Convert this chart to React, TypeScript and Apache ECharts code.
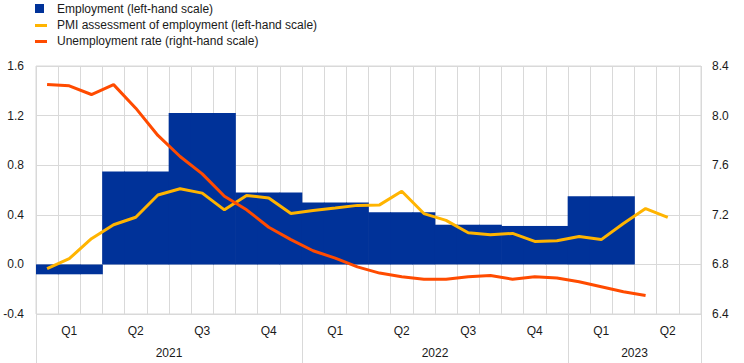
import React, { useEffect, useRef } from "react";
import * as echarts from "echarts";

// Monthly categories (Jan 2021 - Jun 2023)
const months = [
  "2021-01", "2021-02", "2021-03", "2021-04", "2021-05", "2021-06",
  "2021-07", "2021-08", "2021-09", "2021-10", "2021-11", "2021-12",
  "2022-01", "2022-02", "2022-03", "2022-04", "2022-05", "2022-06",
  "2022-07", "2022-08", "2022-09", "2022-10", "2022-11", "2022-12",
  "2023-01", "2023-02", "2023-03", "2023-04", "2023-05", "2023-06",
];

// Employment, quarterly (left-hand scale)
const employmentQuarters = ["2021Q1", "2021Q2", "2021Q3", "2021Q4", "2022Q1", "2022Q2", "2022Q3", "2022Q4", "2023Q1"];
const employment = [-0.08, 0.75, 1.22, 0.58, 0.5, 0.42, 0.32, 0.31, 0.55];

// PMI assessment of employment, monthly (left-hand scale)
const pmi = [
  -0.035, 0.046, 0.207, 0.32, 0.38, 0.56, 0.61, 0.575, 0.44, 0.556, 0.535, 0.41,
  0.435, 0.454, 0.476, 0.48, 0.59, 0.41, 0.355, 0.255, 0.24, 0.25, 0.185, 0.19,
  0.225, 0.2, 0.33, 0.45, 0.38,
];

// Unemployment rate, monthly (right-hand scale)
const unemployment = [
  8.25, 8.24, 8.17, 8.25, 8.06, 7.84, 7.67, 7.53, 7.35, 7.24, 7.1, 7.0,
  6.91, 6.85, 6.78, 6.73, 6.7, 6.68, 6.68, 6.7, 6.71, 6.68, 6.7, 6.69,
  6.66, 6.62, 6.58, 6.55,
];

const leftTicks = { min: -0.4, max: 1.6, interval: 0.4 };
const rightTicks = { min: 6.4, max: 8.4, interval: 0.4 };

const legendNames = [
  "Employment (left-hand scale)",
  "PMI assessment of employment (left-hand scale)",
  "Unemployment rate (right-hand scale)",
];

const BLUE = "#003299";
const YELLOW = "#FFB400";
const RED = "#FF4B00";
const GRID = "#d9d9d9";
const FONT = "Liberation Sans, Arial, sans-serif";
const TEXT = "#1a1a1a";

export default function App() {
  const ref = useRef<HTMLDivElement>(null);

  useEffect(() => {
    document.body.style.margin = "0";
    if (!ref.current) return;
    const chart = echarts.init(ref.current, undefined, { renderer: "svg" });

    // monthly bar data from quarterly values
    const barData = months.map((m) => {
      const y = m.slice(0, 4);
      const q = Math.floor((parseInt(m.slice(5, 7), 10) - 1) / 3) + 1;
      const idx = employmentQuarters.indexOf(`${y}Q${q}`);
      return idx >= 0 ? employment[idx] : null;
    });

    // boundary categories for the year axis (31 boundaries)
    const boundaries = [...months.map((m) => m), "end"];
    const years = Array.from(new Set(months.map((m) => m.slice(0, 4))));
    const yearCenter: Record<number, string> = {};
    years.forEach((y) => {
      const first = months.findIndex((m) => m.startsWith(y));
      let last = -1;
      months.forEach((m, i) => {
        if (m.startsWith(y)) last = i;
      });
      yearCenter[(first + last + 1) / 2] = y;
    });
    const yearStarts = new Set<number>();
    years.forEach((y) => yearStarts.add(months.findIndex((m) => m.startsWith(y))));
    yearStarts.add(months.length);

    const option: echarts.EChartsOption = {
      animation: false,
      textStyle: { fontFamily: FONT },
      grid: {
        left: 36,
        right: 43,
        top: 66,
        bottom: 49,
        show: true,
        borderColor: GRID,
        borderWidth: 1,
        backgroundColor: "transparent",
      },
      xAxis: [
        {
          type: "category",
          data: months,
          boundaryGap: true,
          position: "bottom",
          axisLine: { show: false },
          axisTick: { show: false },
          axisLabel: {
            interval: (i: number) => i % 3 === 1,
            formatter: (v: string) => "Q" + (Math.floor((parseInt(v.slice(5, 7), 10) - 1) / 3) + 1),
            color: TEXT,
            fontSize: 12,
            fontFamily: FONT,
            margin: 11,
          },
          splitLine: { show: true, interval: 0, lineStyle: { color: GRID, width: 1 } },
        },
        {
          type: "category",
          data: boundaries,
          boundaryGap: false,
          position: "bottom",
          axisLine: { show: false },
          axisTick: {
            show: true,
            interval: (i: number) => yearStarts.has(i),
            length: 50,
            lineStyle: { color: GRID, width: 1 },
          },
          axisLabel: {
            interval: (i: number) => yearCenter[i] !== undefined,
            formatter: (_v: string, i: number) => yearCenter[i] ?? "",
            color: TEXT,
            fontSize: 12,
            fontFamily: FONT,
            margin: 33,
          },
          splitLine: { show: false },
        },
      ],
      yAxis: [
        {
          type: "value",
          position: "left",
          ...leftTicks,
          axisLine: { show: false },
          axisTick: { show: false },
          axisLabel: {
            formatter: (v: number) => v.toFixed(1),
            color: TEXT,
            fontSize: 12,
            fontFamily: FONT,
            margin: 12,
          },
          splitLine: { show: true, lineStyle: { color: GRID, width: 1 } },
        },
        {
          type: "value",
          position: "right",
          ...rightTicks,
          axisLine: { show: false },
          axisTick: { show: false },
          axisLabel: {
            formatter: (v: number) => v.toFixed(1),
            color: TEXT,
            fontSize: 12,
            fontFamily: FONT,
            margin: 11,
          },
          splitLine: { show: false },
        },
      ],
      series: [
        {
          name: legendNames[0],
          type: "bar",
          xAxisIndex: 0,
          yAxisIndex: 0,
          data: barData,
          barWidth: "103%",
          barGap: "-100%",
          itemStyle: { color: BLUE },
        },
        {
          name: legendNames[1],
          type: "line",
          xAxisIndex: 0,
          yAxisIndex: 0,
          data: pmi,
          showSymbol: false,
          symbol: "none",
          lineStyle: { color: YELLOW, width: 3 },
          itemStyle: { color: YELLOW },
        },
        {
          name: legendNames[2],
          type: "line",
          xAxisIndex: 0,
          yAxisIndex: 1,
          data: unemployment,
          showSymbol: false,
          symbol: "none",
          lineStyle: { color: RED, width: 3 },
          itemStyle: { color: RED },
        },
      ],
      graphic: [
        { type: "rect", left: 35, top: 4, shape: { width: 9, height: 9 }, style: { fill: BLUE } },
        { type: "rect", left: 35, top: 24, shape: { width: 12, height: 3 }, style: { fill: YELLOW } },
        { type: "rect", left: 35, top: 40, shape: { width: 12, height: 3 }, style: { fill: RED } },
        ...legendNames.map((n, i) => ({
          type: "text" as const,
          left: 57,
          top: 3 + i * 16,
          style: { text: n, fill: TEXT, font: `12px ${FONT}` },
        })),
      ],
    };

    chart.setOption(option);
    return () => chart.dispose();
  }, []);

  return <div ref={ref} style={{ width: 744, height: 363 }} />;
}
